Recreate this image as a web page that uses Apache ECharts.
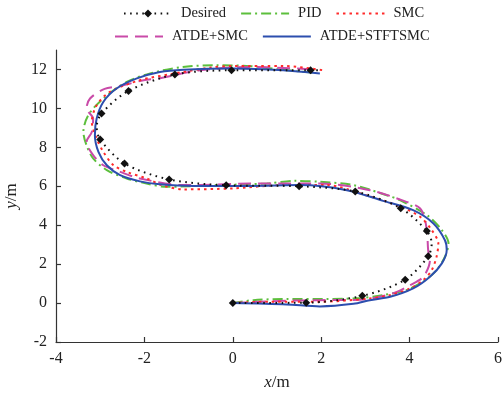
<!DOCTYPE html>
<html><head><meta charset="utf-8">
<script src="https://cdn.jsdelivr.net/npm/echarts@6/dist/echarts.min.js"></script>
<style>html,body{margin:0;padding:0;background:#fff}#c{width:504px;height:396px}</style>
</head><body><div id="c"></div>
<script>
// ---- data ----
const seriesNames = ['Desired', 'PID', 'SMC', 'ATDE+SMC', 'ATDE+STFTSMC'];
const xTicks = [-4, -2, 0, 2, 4, 6];
const yTicks = [-2, 0, 2, 4, 6, 8, 10, 12];

const desired = [[0,0],[1.66,0.02],[2.93,0.37],[3.90,1.20],[4.42,2.40],[4.50,3.06],[4.39,3.70],[3.80,4.87],[2.77,5.73],[1.50,6.00],[-0.15,6.05],[-1.44,6.35],[-2.45,7.17],[-3.00,8.40],[-3.08,9.05],[-2.97,9.74],[-2.36,10.90],[-1.31,11.74],[-0.03,11.96],[1.76,11.96],[2.00,11.96]];
const desiredNoMarker = [5, 14, 20]; // indices of path points without a marker

const pid = [[0,0],[0.46,0.15],[1.22,0.21],[2.12,0.21],[2.88,0.26],[3.40,0.41],[3.93,0.67],[4.35,1.18],[4.61,1.69],[4.80,2.38],[4.88,3.06],[4.73,3.75],[4.39,4.52],[3.78,5.29],[3.48,5.54],[2.73,6.06],[1.97,6.23],[1.40,6.28],[0.77,6.14],[-0.36,6.06],[-1.50,5.97],[-1.95,6.14],[-2.40,6.40],[-2.85,6.83],[-3.16,7.43],[-3.31,8.11],[-3.38,8.79],[-3.27,9.65],[-2.93,10.51],[-2.40,11.36],[-1.87,11.80],[-1.13,12.13],[-0.36,12.22],[0.39,12.17],[1.14,11.98],[1.80,11.84]];

const smc = [[0,0],[0.84,0.07],[1.97,0.07],[3.10,0.24],[3.56,0.41],[4.01,0.75],[4.31,1.18],[4.50,1.69],[4.61,2.38],[4.65,3.06],[4.50,3.75],[4.24,4.43],[3.80,4.95],[3.00,5.55],[2.12,6.06],[1.14,6.06],[0,5.89],[-1.12,5.84],[-1.60,6.05],[-1.95,6.40],[-2.40,6.74],[-2.70,7.08],[-2.93,7.77],[-3.08,8.46],[-3.19,9.31],[-3.08,10.16],[-2.78,10.85],[-2.10,11.45],[-1.42,11.75],[-0.50,12.10],[0,12.18],[1.14,12.18],[2.04,11.96]];

const atdeSmc = [[0,0],[0.46,0.05],[1.22,0.12],[1.97,0.15],[2.88,0.17],[3.63,0.50],[4.01,0.92],[4.31,1.35],[4.46,2.21],[4.42,2.72],[4.40,3.50],[4.35,4.26],[4.24,4.86],[3.93,5.20],[3.10,5.80],[1.97,6.14],[1.14,6.14],[0.39,6.14],[-0.36,6.09],[-1.12,6.06],[-2.10,6.40],[-2.55,6.74],[-2.93,7.08],[-3.16,7.60],[-3.31,8.28],[-3.19,8.79],[-3.16,9.48],[-3.31,9.99],[-3.23,10.51],[-2.90,11.00],[-2.55,11.15],[-2.02,11.45],[-1.65,11.55],[-0.74,11.96],[0.39,12.13],[1.14,12.08],[1.75,12.01]];

const atdeStftsmc = [[0,0],[1.22,-0.07],[1.97,-0.17],[2.73,-0.04],[3.10,0.15],[3.56,0.32],[4.08,0.75],[4.46,1.35],[4.73,2.04],[4.84,2.72],[4.80,3.23],[4.54,4.09],[4.08,4.77],[3.40,5.25],[2.58,5.80],[1.52,6.06],[0.39,6.02],[-0.89,6.02],[-1.65,6.10],[-2.10,6.25],[-2.55,6.57],[-2.85,7.08],[-3.04,7.77],[-3.12,8.62],[-3.08,9.48],[-2.93,10.33],[-2.63,11.02],[-2.17,11.54],[-1.65,11.87],[-1.12,11.99],[0.01,12.05],[1.14,11.96],[1.97,11.79]];

// ---- chart ----
const FONT = "'Liberation Serif', 'Times New Roman', serif";
const desiredData = desired.map((p, i) => desiredNoMarker.includes(i) ? {value: p, symbol: 'none'} : {value: p});

const chart = echarts.init(document.getElementById('c'), null, {renderer: 'canvas'});
const axisCommon = {
  axisLine: {show: true, onZero: false, lineStyle: {color: '#333', width: 1.2}},
  axisTick: {show: true, inside: true, length: 5, lineStyle: {color: '#333', width: 1.2}},
  splitLine: {show: false},
  axisLabel: {color: '#222', fontFamily: FONT, fontSize: 16, margin: 9},
  nameTextStyle: {color: '#222', fontFamily: FONT, fontSize: 17,
    rich: {i: {fontStyle: 'italic', fontFamily: FONT, fontSize: 17, color: '#222'},
           n: {fontFamily: FONT, fontSize: 17, color: '#222'}}}
};
const legendText = {color: '#222', fontFamily: FONT, fontSize: 14.5, padding: [0,0,0,4]};
const noSym = {opacity: 0};
chart.setOption({
  animation: false,
  backgroundColor: '#fff',
  grid: {left: 56, right: 6, top: 50, bottom: 54, containLabel: false, outerBoundsMode: 'none'},
  legend: [
    {data: [{name: seriesNames[0]}, {name: seriesNames[1], itemStyle: noSym}, {name: seriesNames[2], itemStyle: noSym}],
     left: 123, top: 6, itemWidth: 48, itemHeight: 10, itemGap: 14, padding: 0, textStyle: legendText},
    {data: [{name: seriesNames[3], itemStyle: noSym}, {name: seriesNames[4], itemStyle: noSym}],
     left: 114, top: 29, itemWidth: 48, itemHeight: 10, itemGap: 14, padding: 0, textStyle: legendText}
  ],
  xAxis: Object.assign({}, axisCommon, {
    type: 'value', min: xTicks[0], max: xTicks[xTicks.length - 1], interval: 2,
    name: '{i|x}{n|/m}', nameLocation: 'middle', nameGap: 32
  }),
  yAxis: Object.assign({}, axisCommon, {
    type: 'value', min: yTicks[0], max: 13, interval: 2,
    axisLabel: Object.assign({}, axisCommon.axisLabel, {showMaxLabel: false}),
    name: '{i|y}{n|/m}', nameLocation: 'middle', nameGap: 28, nameRotate: 90
  }),
  series: [
    {name: 'PID', type: 'line', data: pid, smooth: 0.3, symbol: 'none',
     lineStyle: {color: '#5cbf3c', width: 2, type: [10, 4, 2, 4]}, itemStyle: {color: '#5cbf3c'}},
    {name: 'ATDE+SMC', type: 'line', data: atdeSmc, smooth: 0.3, symbol: 'none',
     lineStyle: {color: '#c94aa8', width: 2, type: [13, 7]}, itemStyle: {color: '#c94aa8'}},
    {name: 'SMC', type: 'line', data: smc, smooth: 0.3, symbol: 'none',
     lineStyle: {color: '#ff2a2a', width: 2, type: [2.5, 4]}, itemStyle: {color: '#ff2a2a'}},
    {name: 'ATDE+STFTSMC', type: 'line', data: atdeStftsmc, smooth: 0.3, symbol: 'none',
     lineStyle: {color: '#2c4eae', width: 2, type: 'solid'}, itemStyle: {color: '#2c4eae'}},
    {name: 'Desired', type: 'line', data: desiredData, smooth: 0.3, symbol: 'diamond', symbolSize: 8, showSymbol: true,
     lineStyle: {color: '#111', width: 2, type: [1.6, 4.5]}, itemStyle: {color: '#111'}}
  ]
});
</script></body></html>
